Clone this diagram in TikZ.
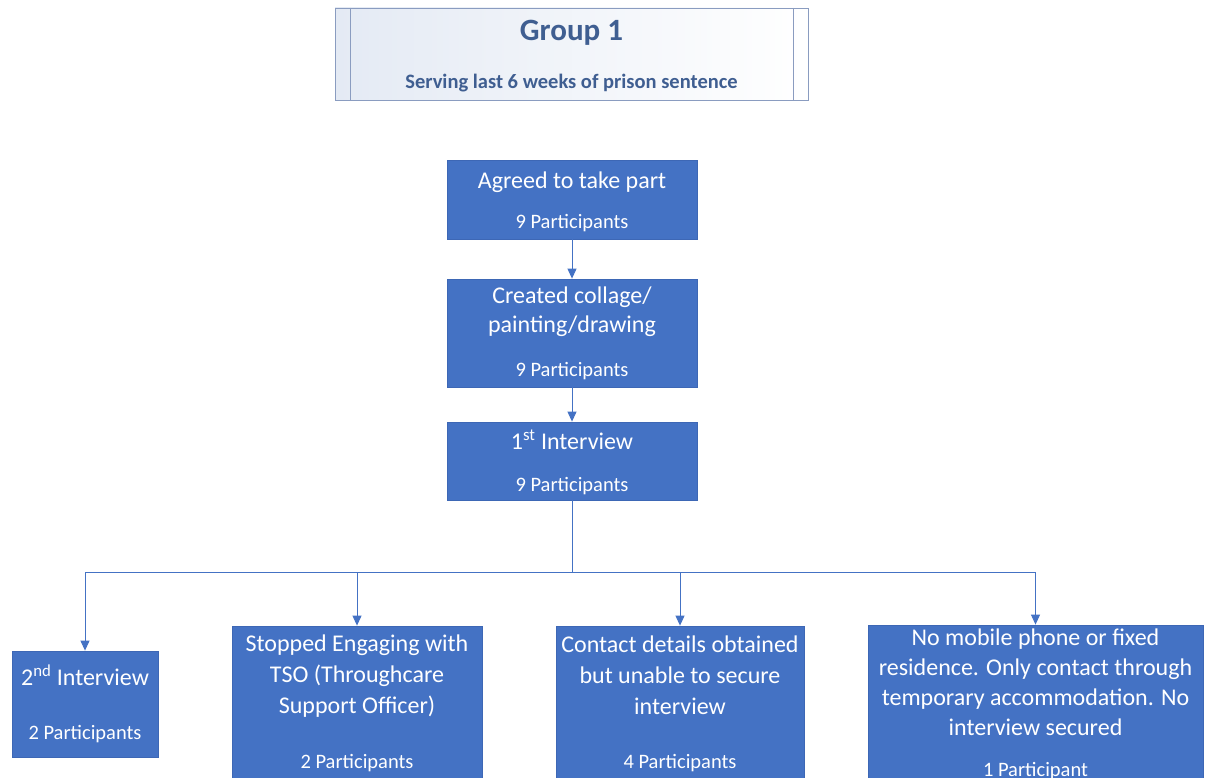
\documentclass[tikz,border=0pt]{standalone}
\usepackage{fontspec}
\setmainfont{Carlito}
\usetikzlibrary{arrows.meta}
\definecolor{boxblue}{HTML}{4472C4}
\definecolor{boxedge}{HTML}{3D67B5}
\definecolor{hdtext}{HTML}{3F5E91}
\definecolor{hdedge}{HTML}{8A9CC0}
\definecolor{hdfill}{HTML}{E4EAF4}
\begin{document}
\begin{tikzpicture}[x=1pt,y=-1pt,
  box/.style={draw=boxedge, fill=boxblue, line width=0.8pt, inner sep=0pt},
  ttl/.style={text=white, font=\fontsize{24}{30}\selectfont, align=center, inner sep=0pt},
  cnt/.style={text=white, font=\fontsize{20.5}{24}\selectfont, inner sep=0pt},
  conn/.style={draw=boxblue, line width=1pt},
  arr/.style={conn, -{Triangle[width=9pt,length=10pt]}}]
\clip (0,0) rectangle (1207,778);
\fill[white] (0,0) rectangle (1207,778);

% header
\node[draw=hdedge, line width=0.8pt, left color=hdfill, right color=white, minimum width=473pt, minimum height=92pt, inner sep=0pt] (hdr) at (571.5,54) {};
\draw[hdedge, line width=0.8pt] (350,8) -- (350,100) (793,8) -- (793,100);
\node[text=hdtext, font=\bfseries\fontsize{31}{36}\selectfont, inner sep=0pt] (hdrt) at (571.5,33) {Group 1};
\node[text=hdtext, font=\bfseries\fontsize{20.5}{24}\selectfont, inner sep=0pt] (hdrs) at (571.5,83) {Serving last 6 weeks of prison sentence};

% top chain
\node[box, minimum width=250pt, minimum height=79pt] (agreed) at (572,199.5) {};
\node[ttl] (agreedt) at (572,182) {Agreed to take part};
\node[cnt] (agreedc) at (572,223) {9 Participants};

\node[box, minimum width=250pt, minimum height=108pt] (created) at (572,333) {};
\node[ttl, font=\fontsize{24}{29}\selectfont] (createdt) at (572,312) {Created collage/\\painting/drawing};
\node[cnt] (createdc) at (572,371) {9 Participants};

\node[box, minimum width=250pt, minimum height=78pt] (first) at (572,461) {};
\node[ttl] (firstt) at (572,440) {1\textsuperscript{st} Interview};
\node[cnt] (firstc) at (572,486) {9 Participants};

\draw[arr] (agreed) -- (created);
\draw[arr] (created) -- (first);

% bottom row
\node[box, minimum width=146pt, minimum height=106pt] (second) at (85,704) {};
\node[ttl] (secondt) at (85,675) {2\textsuperscript{nd} Interview};
\node[cnt] (secondc) at (85,734) {2 Participants};

\node[box, minimum width=250pt, minimum height=180pt] (stopped) at (357,716) {};
\node[ttl, font=\fontsize{24}{31}\selectfont] (stoppedt) at (357,676) {Stopped Engaging with\\TSO (Throughcare\\Support Officer)};
\node[cnt] (stoppedc) at (357,763) {2 Participants};

\node[box, minimum width=248pt, minimum height=180pt] (contact) at (680,716) {};
\node[ttl, font=\fontsize{24}{31}\selectfont] (contactt) at (680,675) {Contact details obtained\\but unable to secure\\interview};
\node[cnt] (contactc) at (680,763) {4 Participants};

\node[box, minimum width=335pt, minimum height=182pt] (nomob) at (1035.5,716) {};
\node[ttl, font=\fontsize{24}{30}\selectfont] (nomobt) at (1035.5,682) {No mobile phone or fixed\\residence. Only contact through\\temporary accommodation. No\\interview secured};
\node[cnt] (nomobc) at (1035.5,771) {1 Participant};

% connectors
\coordinate (split) at (572,572);
\coordinate (hl) at (85,572);
\coordinate (hr) at (1035.5,572);
\draw[conn] (first.south) -- (split);
\draw[conn] (hl) -- (hr);
\draw[arr] (hl) -- (second.north);
\draw[arr] (stopped.north |- split) -- (stopped.north);
\draw[arr] (contact.north |- split) -- (contact.north);
\draw[arr] (hr) -- (nomob.north);
\end{tikzpicture}
\end{document}
